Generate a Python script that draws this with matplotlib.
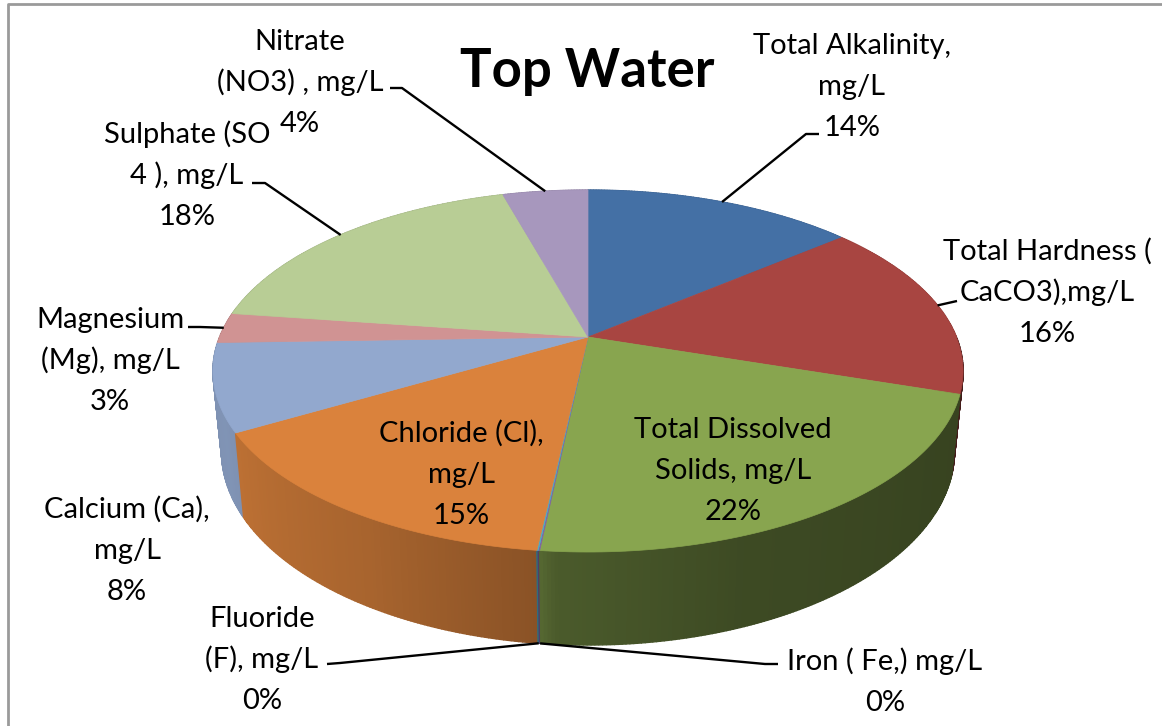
import numpy as np
import matplotlib.pyplot as plt
from matplotlib.colors import to_rgb

plt.rcParams['font.family'] = ['Lato', 'DejaVu Sans']

# slice data, clockwise from 12 o'clock (percent of total)
names = ["Total Alkalinity,\nmg/L", "Total Hardness (\nCaCO3),mg/L",
         "Total Dissolved\nSolids, mg/L", "Iron ( Fe,) mg/L", "Fluoride\n(F), mg/L",
         "Chloride (Cl),\nmg/L", "Calcium (Ca),\nmg/L", "Magnesium\n(Mg), mg/L",
         "Sulphate (SO\n4 ), mg/L", "Nitrate\n(NO3) , mg/L"]
values = [14.0, 16.0, 21.7, 0.05, 0.05, 14.9, 7.8, 2.7, 18.4, 4.4]
colors = ['#4470A5', '#A84541', '#88A54F', '#7E62A1', '#4BACC6',
          '#DA823C', '#92A8CE', '#D09393', '#B8CD95', '#A797BD']

# label layout (pixel coords: centre x, first baseline y)
label_x = [852, 1047, 733, 885, 262, 461, 127, 110, 187, 300]
label_y = [54, 260, 438, 670, 627, 442, 518, 328, 143, 50]
# leader kinks: (kink point, end point) or None
leaders = [((806, 134), (819, 134)), ((957, 301), (957, 301)), None,
           ((765, 664), (778, 664)), ((340, 663), (327, 664)), None, None,
           ((200, 327), (188, 327)), ((265, 183), (252, 183)), ((402, 88), (390, 88))]

fig = plt.figure(figsize=(11.62, 7.26), dpi=100)
ax = fig.add_axes([0, 0, 1, 1])
ax.set_xlim(0, 1162)
ax.set_ylim(726, 0)
ax.axis('off')

# perspective of the 3-D pie
CX, CY, R, S, K = 588, 337, 368.4, 174.6, 0.188


def top_xy(theta):
    t = np.radians(theta)
    w = 1 + K * np.sin(t)
    return CX + R * np.cos(t) / w, CY - S * np.sin(t) / w


def bottom_xy(theta):
    x, y = top_xy(theta)
    return CX + 0.977 * (x - CX), y + 85 + 8 * (y - 437) / 115


shade_knots = [150, 180, 205, 240, 264, 266, 290, 330, 390]
shade_vals = [0.85, 0.85, 0.88, 0.77, 0.63, 0.55, 0.45, 0.41, 0.40]

total = sum(values)
edges = 90 - 360 * np.concatenate([[0], np.cumsum(values)]) / total

# side walls, back to front
strips = []
for i in range(len(values)):
    a0, a1 = edges[i], edges[i + 1]
    n = max(2, int(abs(a0 - a1) / 0.5) + 1)
    ts = np.linspace(a0, a1, n)
    for j in range(n - 1):
        tt = ts[j:j + 2]
        xt, yt = top_xy(tt)
        xb, yb = bottom_xy(tt)
        mid = tt.mean()
        shade = np.interp(mid % 360, shade_knots, shade_vals)
        col = np.clip(np.array(to_rgb(colors[i])) * shade, 0, 1)
        strips.append((np.sin(np.radians(mid)),
                       [xt[0], xt[1], xb[1], xb[0]], [yt[0], yt[1], yb[1], yb[0]], col))
strips.sort(key=lambda s: -s[0])
for _, xs, ys, col in strips:
    ax.fill(xs, ys, color=col, ec=col, lw=1.0)

# top faces
for i in range(len(values)):
    ts = np.linspace(edges[i], edges[i + 1], max(2, int(abs(edges[i] - edges[i + 1])) + 2))
    x, y = top_xy(ts)
    ax.fill(np.r_[CX, x], np.r_[CY, y], color=colors[i], ec=colors[i], lw=0.5)

# labels and leader lines
for i, name in enumerate(names):
    lines = name.split('\n') + [f"{round(values[i] / total * 100):.0f}%"]
    for k, line in enumerate(lines):
        ax.text(label_x[i], label_y[i] + 41 * k, line, fontsize=21, ha='center',
                va='baseline', color='black')
    if leaders[i] is not None:
        mid = (edges[i] + edges[i + 1]) / 2
        if values[i] / total < 0.005:
            px, py = bottom_xy(mid)
        else:
            px, py = top_xy(mid)
        (kx, ky), (ex, ey) = leaders[i]
        ax.plot([px, kx, ex], [py, ky, ey], color='black', lw=1.7,
                solid_joinstyle='round', solid_capstyle='butt')

ax.text(587, 72, "Top Water", fontsize=38, fontweight='bold', ha='center', va='center')

# chart frame (only top and left edges fall inside the picture)
ax.plot([7.5, 7.5, 1175], [740, 4, 4], color='#9a9a9a', lw=2, clip_on=False)

fig.savefig('out.png', dpi=100)
